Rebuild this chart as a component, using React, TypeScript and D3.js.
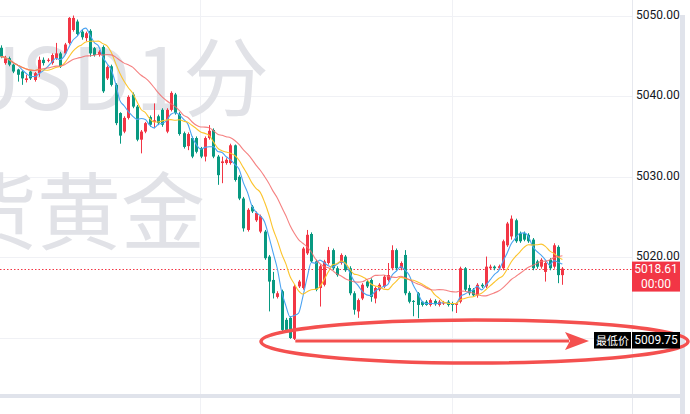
import React from "react";
import * as d3 from "d3";

// OHLC data (1-minute candles)
const opens = [
  5046.0, 5044.1, 5044.7, 5043.9, 5043.3, 5043.05, 5042.0, 5043.05, 5042.0, 5042.85,
  5044.5, 5044.4, 5044.1, 5044.7, 5045.3, 5045.3, 5046.6, 5048.2, 5049.25, 5048.0,
  5047.2, 5048.1, 5045.95, 5045.1, 5046.1, 5042.2, 5043.7, 5041.4, 5037.9, 5035.6,
  5037.3, 5040.2, 5038.7, 5034.6, 5035.6, 5037.4, 5036.8, 5037.5, 5038.3, 5035.6,
  5038.3, 5040.2, 5037.8, 5035.4, 5033.8, 5034.8, 5034.8, 5033.55, 5032.5, 5034.8,
  5035.8, 5032.5, 5031.7, 5031.7, 5031.7, 5033.9, 5030.0, 5027.3, 5023.4, 5026.3,
  5024.6, 5023.2, 5023.2, 5020.1, 5017.2, 5015.1, 5015.8, 5012.25, 5012.5, 5009.9,
  5016.4, 5016.2, 5020.5, 5022.9, 5019.5, 5016.2, 5016.6, 5019.3, 5020.9, 5018.65,
  5019.3, 5020.1, 5018.65, 5015.55, 5013.3, 5014.9, 5017.0, 5017.2, 5014.9, 5016.0,
  5016.4, 5017.2, 5018.65, 5020.9, 5018.65, 5020.3, 5015.6, 5014.6, 5015.55, 5014.5,
  5014.5, 5014.1, 5014.6, 5014.1, 5014.3, 5014.5, 5014.3, 5014.1, 5014.5, 5018.65,
  5016.2, 5016.0, 5015.3, 5016.6, 5016.4, 5018.65, 5018.85, 5018.65, 5018.65, 5021.5,
  5022.6, 5024.6, 5023.0, 5023.0, 5022.8, 5022.2, 5019.5, 5018.85, 5018.2, 5019.7,
  5018.85, 5021.3, 5017.8,
];
const highs = [
  5046.3, 5045.0, 5044.9, 5044.0, 5043.4, 5043.2, 5042.65, 5043.2, 5043.0, 5044.9,
  5044.8, 5044.7, 5045.3, 5046.6, 5045.5, 5046.6, 5049.8, 5050.0, 5049.5, 5048.3,
  5048.0, 5048.3, 5046.1, 5045.7, 5046.3, 5043.8, 5043.9, 5041.6, 5038.0, 5037.5,
  5040.1, 5040.45, 5038.9, 5035.8, 5036.8, 5037.6, 5039.1, 5037.7, 5038.5, 5038.5,
  5040.6, 5040.4, 5038.0, 5035.6, 5035.5, 5035.0, 5035.0, 5033.7, 5035.0, 5036.4,
  5036.0, 5032.7, 5032.5, 5032.3, 5034.1, 5034.0, 5030.2, 5027.5, 5026.1, 5026.5,
  5025.7, 5025.3, 5023.4, 5020.3, 5018.2, 5015.8, 5016.0, 5012.5, 5012.7, 5016.6,
  5017.2, 5021.3, 5023.4, 5023.1, 5019.7, 5019.1, 5019.7, 5021.3, 5021.1, 5018.9,
  5020.5, 5020.3, 5018.9, 5015.8, 5014.9, 5016.8, 5017.2, 5017.4, 5016.4, 5016.8,
  5017.8, 5019.3, 5021.5, 5021.1, 5019.5, 5020.9, 5015.8, 5014.7, 5015.7, 5014.6,
  5014.7, 5014.9, 5014.8, 5014.7, 5014.6, 5014.7, 5014.5, 5014.4, 5018.85, 5018.8,
  5016.6, 5016.2, 5016.8, 5016.8, 5020.1, 5019.1, 5019.0, 5019.1, 5022.2, 5024.4,
  5025.2, 5024.8, 5023.2, 5023.2, 5023.0, 5022.4, 5019.7, 5019.9, 5019.5, 5019.9,
  5021.75, 5021.5, 5018.8,
];
const lows = [
  5044.7, 5043.9, 5043.7, 5042.85, 5041.8, 5041.4, 5041.7, 5042.0, 5041.8, 5042.4,
  5043.8, 5044.2, 5043.9, 5044.5, 5043.5, 5045.1, 5046.4, 5048.0, 5047.5, 5047.0,
  5046.8, 5044.9, 5044.9, 5044.9, 5040.4, 5042.0, 5041.2, 5036.4, 5034.1, 5035.4,
  5037.1, 5038.5, 5034.4, 5032.9, 5035.4, 5036.2, 5036.0, 5036.4, 5036.2, 5035.4,
  5038.1, 5037.7, 5035.1, 5033.5, 5033.3, 5032.3, 5032.9, 5032.3, 5031.9, 5034.6,
  5032.3, 5029.0, 5029.2, 5031.5, 5031.5, 5029.4, 5027.1, 5023.2, 5023.2, 5025.5,
  5024.4, 5023.0, 5019.7, 5013.3, 5014.9, 5014.9, 5010.8, 5010.8, 5009.9, 5009.75,
  5016.2, 5016.0, 5020.3, 5019.3, 5015.8, 5013.9, 5016.4, 5019.1, 5018.4, 5017.6,
  5019.1, 5018.2, 5015.3, 5012.9, 5012.5, 5014.7, 5016.2, 5014.5, 5014.3, 5015.8,
  5016.2, 5017.0, 5018.4, 5018.4, 5018.4, 5015.3, 5014.3, 5012.7, 5012.45, 5013.9,
  5014.0, 5013.9, 5014.0, 5013.9, 5014.1, 5013.9, 5013.3, 5013.1, 5014.3, 5015.8,
  5015.3, 5015.1, 5015.0, 5016.2, 5016.2, 5018.5, 5018.4, 5018.5, 5018.4, 5021.3,
  5022.2, 5021.8, 5021.8, 5022.0, 5021.8, 5018.4, 5018.6, 5018.6, 5017.0, 5018.4,
  5018.6, 5016.8, 5016.6,
];
const closes = [
  5044.9, 5044.7, 5043.9, 5043.05, 5042.65, 5042.2, 5042.2, 5042.2, 5042.85, 5044.5,
  5044.1, 5044.5, 5045.1, 5045.3, 5043.7, 5046.4, 5049.7, 5049.7, 5047.7, 5047.3,
  5047.8, 5045.3, 5045.1, 5045.5, 5040.6, 5043.6, 5041.4, 5036.65, 5035.1, 5037.3,
  5039.9, 5038.7, 5034.6, 5035.6, 5036.65, 5036.45, 5037.0, 5036.65, 5036.45, 5038.3,
  5040.4, 5037.9, 5035.3, 5033.7, 5035.3, 5032.5, 5033.1, 5032.5, 5034.8, 5035.7,
  5032.5, 5030.2, 5031.9, 5032.1, 5033.9, 5029.6, 5027.3, 5023.6, 5025.9, 5025.7,
  5025.5, 5025.1, 5019.9, 5017.0, 5015.55, 5015.55, 5011.0, 5011.0, 5010.0, 5016.4,
  5017.0, 5021.1, 5022.8, 5019.5, 5016.0, 5018.9, 5019.5, 5020.9, 5018.65, 5017.8,
  5020.3, 5018.4, 5015.55, 5013.5, 5014.7, 5016.6, 5016.4, 5015.1, 5016.2, 5016.6,
  5017.6, 5017.8, 5020.9, 5018.65, 5019.3, 5015.55, 5014.5, 5014.5, 5014.1, 5014.1,
  5014.1, 5014.7, 5014.2, 5014.5, 5014.4, 5014.1, 5014.1, 5014.3, 5018.65, 5016.0,
  5015.55, 5015.3, 5016.6, 5016.4, 5018.85, 5018.85, 5018.65, 5018.9, 5022.0, 5024.2,
  5024.8, 5022.0, 5022.0, 5022.2, 5022.0, 5018.65, 5018.85, 5019.7, 5019.3, 5018.65,
  5021.5, 5017.8, 5018.61,
];

const priceTicks = [5050, 5040, 5030, 5020, 5010];
const maPeriods = [5, 10, 20];
const lastPrice = 5018.61;
const lastTimeLabel = "00:00";
const lowPrice = 5009.75;
const lowLabel = "最低价";
const watermarkSymbol = "XAUUSD";
const watermarkInterval = "1分";
const watermarkLine2 = "现货黄金";

const UP = "#f23645";
const DOWN = "#089981";
const maColors = ["#4ba3f2", "#fcc42d", "#f36b6b"];
const W = 690;
const H = 414;
const plotRight = 632;
const paneBottom = 394;
const fontAxis = "Roboto, 'Noto Sans', sans-serif";

function movingAvg(vals: number[], n: number) {
  return vals.map((_, i) => {
    const s = Math.max(0, i - n + 1);
    return d3.mean(vals.slice(s, i + 1)) as number;
  });
}

export default function App() {
  const n = closes.length;
  const xs = d3.scaleLinear().domain([0, n - 1]).range([0.7, 562.4]);
  const ys = d3.scaleLinear().domain([5010, 5050]).range([338, 15.5]);
  const idx = d3.range(n);
  const lowIdx = lows.indexOf(d3.min(lows) as number);

  const mas = maPeriods.map((p) => movingAvg(closes, p));
  const line = d3
    .line<number>()
    .x((_, i) => xs(i))
    .y((d) => ys(d))
    .curve(d3.curveMonotoneX);

  const yLast = ys(lastPrice);
  const yLow = ys(lowPrice);
  const arrowStartX = xs(lowIdx) + 1;
  const arrowTip = 589;
  // axis labels hidden behind the low-price tag are not drawn
  const visibleTicks = priceTicks.filter((t) => Math.abs(ys(t) - yLow) > 10);

  return (
    <svg
      width={W}
      height={H}
      style={{ position: "fixed", left: 0, top: 0, background: "#fff" }}
      xmlns="http://www.w3.org/2000/svg"
    >
      <defs>
        <clipPath id="plotClip">
          <rect x={0} y={0} width={plotRight} height={paneBottom} />
        </clipPath>
      </defs>
      <rect x={0} y={0} width={W} height={H} fill="#fff" />

      {/* grid */}
      {priceTicks.map((t) => (
        <line key={t} x1={0} x2={plotRight} y1={Math.round(ys(t)) + 0.5} y2={Math.round(ys(t)) + 0.5} stroke="#f0f1f5" />
      ))}
      {[200, 452].map((x) => (
        <line key={x} x1={x + 0.5} x2={x + 0.5} y1={0} y2={H} stroke="#f0f1f5" />
      ))}

      {/* watermark */}
      <g fontFamily="'Noto Sans CJK SC', sans-serif" fill="#e1e2e7">
        <text x={131} y={110} fontSize={86} textAnchor="end">{watermarkSymbol}</text>
        <text x={269} y={110} fontSize={86} textAnchor="end">{watermarkInterval}</text>
        <text x={205} y={243} fontSize={84} textAnchor="end">{watermarkLine2}</text>
      </g>

      <g clipPath="url(#plotClip)">
        {/* last price dotted line */}
        <line x1={0} x2={plotRight} y1={Math.round(yLast) + 0.5} y2={Math.round(yLast) + 0.5} stroke={UP} strokeDasharray="1.5 2" />

        {/* candles */}
        {idx.map((i) => {
          const up = closes[i] >= opens[i];
          const c = up ? UP : DOWN;
          const cx = Math.round(xs(i));
          const top = ys(Math.max(opens[i], closes[i]));
          const bot = ys(Math.min(opens[i], closes[i]));
          return (
            <g key={i}>
              <line x1={cx + 0.5} x2={cx + 0.5} y1={ys(highs[i])} y2={ys(lows[i])} stroke={c} strokeWidth={1} />
              <rect x={cx - 1} y={top} width={3} height={Math.max(1, bot - top)} fill={c} />
            </g>
          );
        })}

        {/* moving averages */}
        {mas.map((m, k) => (
          <path key={k} d={line(m) || ""} fill="none" stroke={maColors[k]} strokeWidth={1.1} strokeOpacity={k === 2 ? 0.85 : 1} />
        ))}
      </g>

      {/* pane separators */}
      <line x1={plotRight + 0.5} x2={plotRight + 0.5} y1={0} y2={H} stroke="#e6e8ee" />
      <rect x={0} y={paneBottom} width={685} height={4} fill="#e0e3eb" />
      <rect x={680} y={15} width={5} height={H - 15} fill="#e0e3eb" />

      {/* axis labels */}
      <g fontFamily={fontAxis} fontSize={12} fill="#131722">
        {visibleTicks.map((t) => (
          <text key={t} x={636} y={ys(t) - 1} dominantBaseline="central">
            {d3.format(".2f")(t)}
          </text>
        ))}
      </g>

      {/* last price label */}
      <rect x={plotRight} y={yLast - 7} width={48} height={30} fill={UP} />
      <g fontFamily={fontAxis} fontSize={12} fill="#fff">
        <text x={656} y={yLast + 0.5} textAnchor="middle" dominantBaseline="central">{d3.format(".2f")(lastPrice)}</text>
        <text x={656} y={yLast + 15} textAnchor="middle" dominantBaseline="central">{lastTimeLabel}</text>
      </g>

      {/* annotation: ellipse + arrow */}
      <ellipse cx={474.5} cy={yLow + 1.5} rx={213.5} ry={21.5} fill="none" stroke="#f4504f" strokeWidth={3.5} />
      <line x1={arrowStartX} x2={arrowTip - 20} y1={yLow + 1} y2={yLow + 1} stroke="#f4504f" strokeWidth={3} />
      <polygon
        points={`${arrowTip - 24},${yLow - 8} ${arrowTip},${yLow + 1} ${arrowTip - 24},${yLow + 10} ${arrowTip - 19},${yLow + 1}`}
        fill="#f4504f"
      />

      {/* low price label */}
      <rect x={594} y={yLow - 8} width={37} height={16.5} fill="#000" />
      <rect x={plotRight} y={yLow - 8} width={48} height={16.5} fill="#000" />
      <g fontFamily={fontAxis} fontSize={12} fill="#fff">
        <text x={612.5} y={yLow} textAnchor="middle" dominantBaseline="central" fontFamily="'Noto Sans CJK SC', sans-serif" fontSize={11}>
          {lowLabel}
        </text>
        <text x={656} y={yLow} textAnchor="middle" dominantBaseline="central">{d3.format(".2f")(lowPrice)}</text>
      </g>
    </svg>
  );
}
